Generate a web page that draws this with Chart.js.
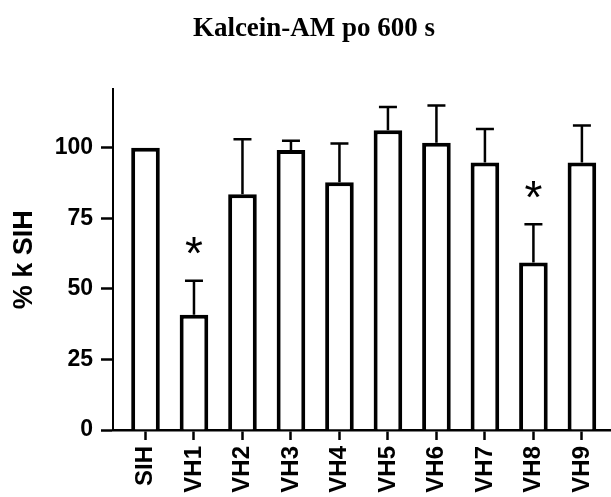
<!DOCTYPE html>
<html>
<head>
<meta charset="utf-8">
<script src="https://cdn.jsdelivr.net/npm/chart.js@4.4.0/dist/chart.umd.min.js"></script>
<style>
  html, body { margin: 0; padding: 0; background: #fff; }
  #wrap { width: 611px; height: 497px; }
</style>
</head>
<body>
<div id="wrap"><canvas id="chart" width="611" height="497"></canvas></div>
<script>
const categories = ['SIH', 'VH1', 'VH2', 'VH3', 'VH4', 'VH5', 'VH6', 'VH7', 'VH8', 'VH9'];
const means = [100, 40.8, 83.5, 99.2, 87.8, 106.2, 101.8, 94.8, 59.4, 94.8];
const errors = [0, 12.1, 19.5, 3.3, 13.7, 8.3, 13.2, 11.9, 13.5, 13.1];
const significant = ['', '*', '', '', '', '', '', '', '*', ''];
const yTicks = [0, 25, 50, 75, 100];

const errorBarsPlugin = {
  id: 'errorBars',
  afterDatasetsDraw(chart) {
    const ctx = chart.ctx;
    const x = chart.scales.x;
    const y = chart.scales.y;
    ctx.save();
    ctx.strokeStyle = '#000';
    ctx.fillStyle = '#000';
    ctx.lineWidth = 2.5;
    means.forEach((m, i) => {
      const px = x.getPixelForValue(i);
      const top = y.getPixelForValue(m + errors[i]);
      if (errors[i] > 0) {
        ctx.beginPath();
        ctx.moveTo(px, y.getPixelForValue(m));
        ctx.lineTo(px, top);
        ctx.moveTo(px - 9, top);
        ctx.lineTo(px + 9, top);
        ctx.stroke();
      }
      if (significant[i]) {
        ctx.font = '46px "Liberation Sans"';
        ctx.textAlign = 'center';
        ctx.textBaseline = 'middle';
        ctx.fillText(significant[i], px, top - 24);
      }
    });
    ctx.restore();
  },
};

const ctx = document.getElementById('chart').getContext('2d');
new Chart(ctx, {
  type: 'bar',
  data: {
    datasets: [
      {
        data: means.map((v, i) => ({ x: i, y: v })),
        backgroundColor: '#fff',
        borderColor: '#000',
        borderWidth: 4,
        borderSkipped: 'bottom',
        barPercentage: 0.59,
        categoryPercentage: 1,
      },
    ],
  },
  options: {
    responsive: false,
    animation: false,
    layout: { padding: { left: 17, right: 0, top: 0, bottom: 0 } },
    plugins: {
      legend: { display: false },
      tooltip: { enabled: false },
      title: {
        display: true,
        text: 'Kalcein-AM po 600 s',
        color: '#000',
        font: { family: '"Liberation Serif"', size: 27, weight: 'bold' },
        padding: { top: 13, bottom: 44 },
      },
    },
    scales: {
      x: {
        type: 'linear',
        min: -0.67,
        max: 9.6,
        offset: false,
        afterBuildTicks: (axis) => {
          axis.ticks = categories.map((c, i) => ({ value: i }));
        },
        afterFit: (scale) => {
          scale.height = 67;
          scale.paddingLeft = 0;
          scale.paddingRight = 0;
        },
        border: { display: true, color: '#000', width: 2.5 },
        grid: {
          offset: false,
          drawOnChartArea: false,
          drawTicks: true,
          tickLength: 10,
          tickWidth: 2.5,
          tickColor: '#000',
        },
        ticks: {
          color: '#000',
          minRotation: 90,
          maxRotation: 90,
          autoSkip: false,
          padding: 6,
          font: { family: '"Liberation Sans"', size: 24, weight: 'bold' },
          callback: (value) => categories[value],
        },
      },
      y: {
        min: 0,
        max: 120.7,
        afterBuildTicks: (axis) => {
          axis.ticks = yTicks.map((v) => ({ value: v }));
        },
        afterFit: (scale) => {
          scale.width = 96;
        },
        border: { display: true, color: '#000', width: 2 },
        grid: {
          drawOnChartArea: false,
          drawTicks: true,
          tickLength: 12,
          tickWidth: 2.5,
          tickColor: '#000',
        },
        ticks: {
          color: '#000',
          padding: 8,
          font: { family: '"Liberation Sans"', size: 23, weight: 'bold' },
        },
        title: {
          display: true,
          text: '% k SIH',
          color: '#000',
          padding: { top: 1, bottom: 0 },
          font: { family: '"Liberation Sans"', size: 27, weight: 'bold', lineHeight: 0.5 },
        },
      },
    },
  },
  plugins: [errorBarsPlugin],
});
</script>
</body>
</html>
